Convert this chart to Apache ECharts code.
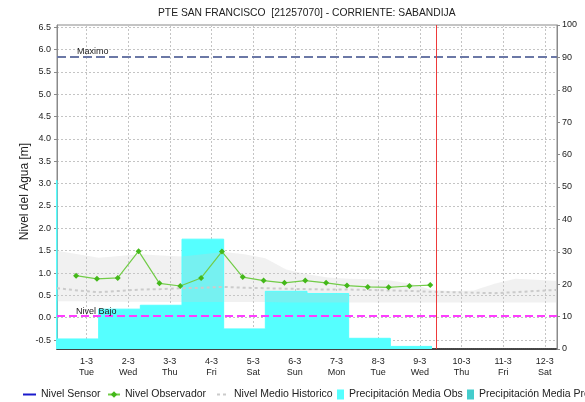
<!DOCTYPE html>
<html>
<head>
<meta charset="utf-8">
<script src="https://cdn.jsdelivr.net/npm/echarts@6/dist/echarts.min.js"></script>
<style>
  html, body { margin: 0; padding: 0; background: #fff; }
  #chart { width: 585px; height: 402px; }
</style>
</head>
<body>
<div id="chart"></div>
<script>
// Observer gauge readings (m), taken at 06:00 and 18:00
const obsTimes = [
  '2022-02-28 18:00',
  '2022-03-01 06:00', '2022-03-01 18:00',
  '2022-03-02 06:00', '2022-03-02 18:00',
  '2022-03-03 06:00', '2022-03-03 18:00',
  '2022-03-04 06:00', '2022-03-04 18:00',
  '2022-03-05 06:00', '2022-03-05 18:00',
  '2022-03-06 06:00', '2022-03-06 18:00',
  '2022-03-07 06:00', '2022-03-07 18:00',
  '2022-03-08 06:00', '2022-03-08 18:00',
  '2022-03-09 06:00'
];
const obsLevels = [0.94, 0.87, 0.89, 1.49, 0.77, 0.71, 0.89, 1.48, 0.91, 0.83,
                   0.78, 0.83, 0.78, 0.72, 0.69, 0.68, 0.71, 0.73];

// Daily observed rainfall (mm), each day running 07:00 to 07:00
const rainStarts = [
  '2022-02-27 07:00', '2022-02-28 07:00', '2022-03-01 07:00', '2022-03-02 07:00',
  '2022-03-03 07:00', '2022-03-04 07:00', '2022-03-05 07:00', '2022-03-06 07:00',
  '2022-03-07 07:00', '2022-03-08 07:00'
];
const rainLastEnd = '2022-03-09 07:00';
const rainMm = [52, 3.1, 12.3, 13.5, 33.9, 6.2, 17.8, 17.1, 3.3, 0.8];

// Historical level envelope (m): lower, upper and mean
const histTimes = [
  '2022-02-28 07:00', '2022-02-28 19:00', '2022-03-01 07:00', '2022-03-01 19:00',
  '2022-03-02 07:00', '2022-03-02 19:00', '2022-03-03 07:00', '2022-03-03 19:00',
  '2022-03-04 07:00', '2022-03-04 19:00', '2022-03-05 07:00', '2022-03-05 19:00',
  '2022-03-06 07:00', '2022-03-06 19:00', '2022-03-07 07:00', '2022-03-07 19:00',
  '2022-03-08 07:00', '2022-03-08 19:00', '2022-03-09 07:00', '2022-03-09 19:00',
  '2022-03-10 07:00', '2022-03-10 19:00', '2022-03-11 07:00', '2022-03-11 19:00',
  '2022-03-12 07:00'
];
const histUpper = [1.50, 1.42, 1.34, 1.38, 1.42, 1.39, 1.37, 1.42, 1.47, 1.42,
                   1.33, 1.08, 0.97, 0.90, 0.87, 0.86, 0.83, 0.76, 0.62, 0.60,
                   0.61, 0.76, 0.87, 0.85, 0.82];
const histLower = [0.37, 0.37, 0.36, 0.36, 0.36, 0.35, 0.35, 0.35, 0.35, 0.35,
                   0.35, 0.34, 0.34, 0.34, 0.34, 0.34, 0.34, 0.34, 0.34, 0.34,
                   0.34, 0.34, 0.34, 0.34, 0.34];
const histMean  = [0.66, 0.61, 0.57, 0.60, 0.63, 0.64, 0.66, 0.67, 0.69, 0.67,
                   0.66, 0.65, 0.64, 0.63, 0.63, 0.62, 0.61, 0.60, 0.58, 0.57,
                   0.56, 0.55, 0.57, 0.60, 0.62];

// Reference levels (m) and current time
const levelMax = 5.84;
const levelLow = 0.035;
const nowTime = '2022-03-09 09:40';

// Axis window and tick labels
const axisStart = '2022-02-28 07:00';
const axisEnd = '2022-03-12 07:00';
const levelTicks = [-0.5, 0, 0.5, 1, 1.5, 2, 2.5, 3, 3.5, 4, 4.5, 5, 5.5, 6, 6.5];
const weekDays = ['Sun', 'Mon', 'Tue', 'Wed', 'Thu', 'Fri', 'Sat'];

function ts(s) {
  const [d, h] = s.split(' ');
  const [Y, M, D] = d.split('-').map(Number);
  const [hh, mm] = h.split(':').map(Number);
  return new Date(Y, M - 1, D, hh, mm).getTime();
}

const FONT = '"Liberation Sans", Arial, sans-serif';

const obsData = obsTimes.map((t, i) => [ts(t), obsLevels[i]]);
const rainData = rainStarts.map((t, i) => [ts(t), rainMm[i]])
  .concat([[ts(rainLastEnd), rainMm[rainMm.length - 1]]]);
const lowerData = histTimes.map((t, i) => [ts(t), histLower[i]]);
const spanData = histTimes.map((t, i) => [ts(t), +(histUpper[i] - histLower[i]).toFixed(3)]);
const meanData = histTimes.map((t, i) => [ts(t), histMean[i]]);

const chart = echarts.init(document.getElementById('chart'), null, { renderer: 'canvas' });

const legendText = { fontFamily: FONT, fontSize: 10.5, color: '#222' };
function legendAt(left, item, w, h, hideSymbol) {
  const cfg = {
    left: left, top: 389, padding: 0, orient: 'horizontal',
    itemWidth: w, itemHeight: h, textStyle: legendText,
    data: [item], selectedMode: false
  };
  if (hideSymbol) cfg.itemStyle = { opacity: 0 };
  return cfg;
}

chart.setOption({
  animation: false,
  textStyle: { fontFamily: FONT },
  title: {
    text: 'PTE SAN FRANCISCO  [21257070] - CORRIENTE: SABANDIJA',
    left: 158, top: 8, padding: 0,
    textStyle: { fontFamily: FONT, fontSize: 10.3, fontWeight: 'normal', color: '#222' }
  },
  legend: [
    legendAt(22, 'Nivel Sensor', 13, 10, true),
    legendAt(107, 'Nivel Observador', 12, 8, false),
    legendAt(216, 'Nivel Medio Historico', 12, 10, true),
    legendAt(337, { name: 'Precipitación Media Obs', icon: 'rect' }, 7, 10, false),
    legendAt(467, { name: 'Precipitación Media Pronosticada', icon: 'rect' }, 7, 10, false)
  ],
  grid: {
    left: 57, right: 28, top: 25, bottom: 53,
    containLabel: false, outerBoundsMode: 'none',
    show: true, borderColor: '#8a8a8a', borderWidth: 1, backgroundColor: 'transparent'
  },
  xAxis: {
    type: 'time',
    min: ts(axisStart), max: ts(axisEnd),
    minInterval: 86400000, maxInterval: 86400000,
    axisLine: { onZero: false, lineStyle: { color: '#444', width: 2, type: [1, 1] } },
    axisTick: { show: false },
    splitLine: { show: true, lineStyle: { color: '#c4c4c4', width: 1, type: [2, 2] } },
    axisLabel: {
      fontFamily: FONT, fontSize: 9, color: '#222', lineHeight: 11, margin: 7,
      formatter: function (v) {
        const d = new Date(v);
        return d.getDate() + '-' + (d.getMonth() + 1) + '\n' + weekDays[d.getDay()];
      }
    }
  },
  yAxis: [
    {
      type: 'value', position: 'left',
      min: -0.70, max: 6.55,
      name: 'Nivel del Agua [m]', nameLocation: 'middle', nameGap: 26,
      nameMoveOverlap: false,
      nameTextStyle: { fontFamily: FONT, fontSize: 12, color: '#222', padding: [0, 9, 0, 0] },
      axisLine: { show: true, lineStyle: { color: '#8a8a8a', width: 1 } },
      axisTick: { show: true, length: 3, customValues: levelTicks, lineStyle: { color: '#8a8a8a' } },
      axisLabel: {
        fontFamily: FONT, fontSize: 9, color: '#222', margin: 6,
        customValues: levelTicks,
        formatter: v => v.toFixed(1)
      },
      splitLine: { show: true, lineStyle: { color: '#c4c4c4', width: 1, type: [2, 2] } }
    },
    {
      type: 'value', position: 'right',
      min: 0, max: 100, interval: 10,
      name: 'Precipitación [mm]', nameLocation: 'middle', nameGap: 28,
      nameMoveOverlap: false,
      nameTextStyle: { fontFamily: FONT, fontSize: 12, color: '#222' },
      axisLine: { show: true, lineStyle: { color: '#8a8a8a', width: 1 } },
      axisTick: { show: true, length: 3, lineStyle: { color: '#8a8a8a' } },
      axisLabel: { fontFamily: FONT, fontSize: 9, color: '#222', margin: 5 },
      splitLine: { show: false }
    }
  ],
  series: [
    {
      name: 'Precipitación Media Obs', type: 'line', yAxisIndex: 1,
      step: 'end', symbol: 'none', data: rainData,
      color: '#55ffff',
      lineStyle: { color: '#55ffff', width: 1 },
      areaStyle: { color: '#55ffff', opacity: 1 }
    },
    {
      name: 'Precipitación Media Pronosticada', type: 'line', yAxisIndex: 1,
      symbol: 'none', data: [], color: '#44cccc',
      lineStyle: { color: '#44cccc' }
    },
    {
      name: 'hist-lower', type: 'line', stack: 'hist', symbol: 'none',
      data: lowerData, lineStyle: { width: 0, opacity: 0 }
    },
    {
      name: 'hist-span', type: 'line', stack: 'hist', symbol: 'none',
      data: spanData, lineStyle: { width: 0, opacity: 0 },
      areaStyle: { color: 'rgba(205,205,205,0.4)' }
    },
    {
      name: 'Nivel Medio Historico', type: 'line', symbol: 'none',
      data: meanData, color: '#c8c8c8',
      lineStyle: { color: '#cbcbcb', width: 2, type: [3, 3] }
    },
    {
      name: 'Nivel Sensor', type: 'line', symbol: 'none', data: [],
      color: '#1a1acc', lineStyle: { color: '#1a1acc', width: 1 }
    },
    {
      name: 'Nivel Observador', type: 'line',
      symbol: 'diamond', symbolSize: 6, data: obsData,
      color: '#44b81a',
      itemStyle: { color: '#44b81a' },
      lineStyle: { color: '#72cc48', width: 1.2 }
    },
    {
      name: 'ref-lines', type: 'line', data: [], symbol: 'none',
      markLine: {
        silent: true, symbol: 'none',
        data: [
          {
            yAxis: levelMax,
            lineStyle: { color: '#6b78a6', width: 2, type: [9, 4] },
            label: {
              show: true, position: 'insideStartTop', formatter: 'Maximo',
              fontFamily: FONT, fontSize: 9, color: '#222', padding: [0, 0, 0, 19], distance: 1
            }
          },
          {
            yAxis: levelLow,
            lineStyle: { color: '#ff3dff', width: 2, type: [8, 4] },
            label: {
              show: true, position: 'insideStartTop', formatter: 'Nivel Bajo',
              fontFamily: FONT, fontSize: 9, color: '#222', padding: [0, 0, 0, 19], distance: 0
            }
          },
          {
            xAxis: ts(nowTime),
            lineStyle: { color: '#ee3a3a', width: 1, type: 'solid' },
            label: { show: false }
          }
        ]
      }
    }
  ]
});
</script>
</body>
</html>
